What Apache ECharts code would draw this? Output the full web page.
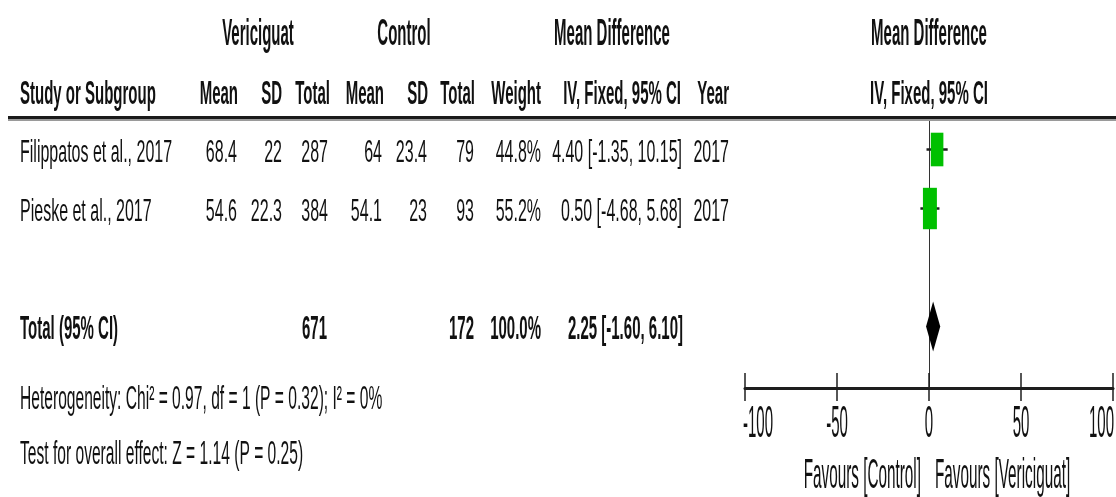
<!DOCTYPE html>
<html>
<head>
<meta charset="utf-8">
<script src="https://cdn.jsdelivr.net/npm/echarts@6/dist/echarts.min.js"></script>
<style>
html,body{margin:0;padding:0;background:#fff;}
#chart{width:1116px;height:497px;}
</style>
</head>
<body>
<div id="chart"></div>
<script>
// ---------- data ----------
const groupHeaders = ['Vericiguat', 'Control', 'Mean Difference', 'Mean Difference'];
const colHeaders = ['Study or Subgroup', 'Mean', 'SD', 'Total', 'Mean', 'SD', 'Total', 'Weight', 'IV, Fixed, 95% CI', 'Year', 'IV, Fixed, 95% CI'];
const studies = ['Filippatos et al., 2017', 'Pieske et al., 2017'];
const studyRows = [0, 1];
const vMean = [68.4, 54.6];
const vSD = [22, 22.3];
const vTotal = [287, 384];
const cMean = [64, 54.1];
const cSD = [23.4, 23];
const cTotal = [79, 93];
const weights = [44.8, 55.2];
const md = [4.40, 0.50];
const ciLow = [-1.35, -4.68];
const ciHigh = [10.15, 5.68];
const years = [2017, 2017];
const totalLabel = 'Total (95% CI)';
const totalRow = 3;
const totalV = 671;
const totalC = 172;
const totalWeight = 100.0;
const pooledMD = 2.25;
const pooledLow = -1.60;
const pooledHigh = 6.10;
const heterogeneity = 'Heterogeneity: Chi\u00B2 = 0.97, df = 1 (P = 0.32); I\u00B2 = 0%';
const overallEffect = 'Test for overall effect: Z = 1.14 (P = 0.25)';
const xTicks = [-100, -50, 0, 50, 100];
const favours = ['Favours [Control]', 'Favours [Vericiguat]'];

// ---------- styling / layout ----------
const FF = '"Liberation Sans", Arial, sans-serif';
const TXT = '#111';
const fmt2 = v => v.toFixed(2);
const ciText = (m, l, h) => fmt2(m) + ' [' + fmt2(l) + ', ' + fmt2(h) + ']';

function txt(text, x, y, align, bold, size, sy) {
  return {
    type: 'text', x: x, y: y, scaleY: sy, z: 10,
    style: {
      text: String(text), fill: TXT,
      font: (bold ? 'bold ' : '') + size + 'px ' + FF,
      textAlign: align, textVerticalAlign: 'middle',
      align: align, verticalAlign: 'middle'
    }
  };
}

const graphics = [];
// group headers
const gh = [[258, 'center'], [404, 'center'], [612, 'center'], [929, 'center']];
groupHeaders.forEach((t, i) => graphics.push(txt(t, gh[i][0], 35, gh[i][1], true, 15, 2.4)));
// column headers
const ch = [[20, 'left'], [238, 'right'], [282, 'right'], [330, 'right'], [384, 'right'], [428, 'right'],
            [475, 'right'], [541, 'right'], [681, 'right'], [729, 'right'], [929, 'center']];
colHeaders.forEach((t, i) => graphics.push(txt(t, ch[i][0], 95, ch[i][1], true, 15, 2.2)));

// study rows
const rowTextY = [153, 212];
const BS = 2.0;
studies.forEach((s, i) => {
  const y = rowTextY[i];
  graphics.push(txt(s, 20, y, 'left', false, 16, BS));
  graphics.push(txt(vMean[i], 237, y, 'right', false, 16, BS));
  graphics.push(txt(vSD[i], 282, y, 'right', false, 16, BS));
  graphics.push(txt(vTotal[i], 328, y, 'right', false, 16, BS));
  graphics.push(txt(cMean[i], 382, y, 'right', false, 16, BS));
  graphics.push(txt(cSD[i], 427, y, 'right', false, 16, BS));
  graphics.push(txt(cTotal[i], 474, y, 'right', false, 16, BS));
  graphics.push(txt(weights[i].toFixed(1) + '%', 541, y, 'right', false, 16, BS));
  graphics.push(txt(ciText(md[i], ciLow[i], ciHigh[i]), 682, y, 'right', false, 16, BS));
  graphics.push(txt(years[i], 729, y, 'right', false, 16, BS));
});
// total row
graphics.push(txt(totalLabel, 20, 330, 'left', true, 15, 2.2));
graphics.push(txt(totalV, 327, 330, 'right', true, 15, 2.2));
graphics.push(txt(totalC, 474, 330, 'right', true, 15, 2.2));
graphics.push(txt(totalWeight.toFixed(1) + '%', 541, 330, 'right', true, 15, 2.2));
graphics.push(txt(ciText(pooledMD, pooledLow, pooledHigh), 683, 330, 'right', true, 15, 2.2));
// footnotes
graphics.push(txt(heterogeneity, 20, 400, 'left', false, 15.6, 2.15));
graphics.push(txt(overallEffect, 20, 455, 'left', false, 15.6, 2.15));
// favours
graphics.push(txt(favours[0], 921, 476, 'right', false, 15.3, 2.75));
graphics.push(txt(favours[1], 935, 476, 'left', false, 15.3, 2.75));
// header rule (double line)
graphics.push({ type: 'rect', shape: { x: 8, y: 116, width: 1108, height: 3 }, style: { fill: '#1a1a1a' }, z: 5 });
graphics.push({ type: 'rect', shape: { x: 8, y: 119, width: 1108, height: 2 }, style: { fill: '#9a9a9a' }, z: 5 });

const chart = echarts.init(document.getElementById('chart'), null, { renderer: 'canvas' });

const studyData = studies.map((s, i) => [md[i], studyRows[i], ciLow[i], ciHigh[i], weights[i]]);

const option = {
  animation: false,
  backgroundColor: '#fff',
  grid: { left: 745, right: 3, top: 120, bottom: 109, containLabel: false },
  xAxis: {
    type: 'value', min: -100, max: 100, interval: 50, position: 'bottom',
    axisLine: { show: true, onZero: false, lineStyle: { color: '#1e1e1e', width: 3 } },
    axisTick: { show: false },
    axisLabel: { show: false }, splitLine: { show: false }
  },
  yAxis: { type: 'value', inverse: true, min: -0.5, max: 4.042, show: false },
  graphic: { elements: graphics },
  series: [
    {
      type: 'custom', name: 'studies', z: 5,
      data: studyData,
      renderItem: function (params, api) {
        const row = api.value(1);
        const c = api.coord([api.value(0), row]);
        const l = api.coord([api.value(2), row]);
        const h = api.coord([api.value(3), row]);
        const w = api.value(4);
        const bw = 1.88 * Math.sqrt(w);
        const bh = 0.75 * w;
        return {
          type: 'group',
          children: [
            { type: 'line', shape: { x1: l[0], y1: l[1], x2: h[0], y2: h[1] }, style: { stroke: '#1e1e1e', lineWidth: 2.5 } },
            { type: 'rect', shape: { x: c[0] - bw / 2, y: c[1] - bh / 2, width: bw, height: bh }, style: { fill: '#00c000' } }
          ]
        };
      },
      markLine: {
        silent: true, symbol: 'none', z: 1,
        label: { show: false },
        lineStyle: { color: '#333', width: 1, type: 'solid' },
        data: [{ xAxis: 0 }]
      }
    },
    {
      type: 'custom', name: 'total', z: 6,
      data: [[pooledMD, totalRow, pooledLow, pooledHigh]],
      renderItem: function (params, api) {
        const row = api.value(1);
        const c = api.coord([api.value(0), row]);
        const l = api.coord([api.value(2), row]);
        const h = api.coord([api.value(3), row]);
        const dh = 25;
        return {
          type: 'polygon',
          shape: { points: [[l[0], l[1]], [c[0], c[1] - dh], [h[0], h[1]], [c[0], c[1] + dh]] },
          style: { fill: '#000' }
        };
      }
    },
    {
      type: 'custom', name: 'ticks', z: 6, silent: true,
      data: xTicks.map(v => [v]),
      renderItem: function (params, api) {
        const v = api.value(0);
        const p = api.coord([v, 0]);
        const cs = params.coordSys;
        const axisY = cs.y + cs.height;
        let align = 'center';
        let x = p[0];
        if (params.dataIndex === 0) { align = 'left'; x -= 2; }
        if (params.dataIndex === xTicks.length - 1) { align = 'right'; x += 1; }
        return {
          type: 'group',
          children: [
            { type: 'line', shape: { x1: p[0], y1: axisY - 15, x2: p[0], y2: axisY + 13 }, style: { stroke: '#1e1e1e', lineWidth: 1.5 } },
            {
              type: 'text', x: x, y: axisY + 37, scaleY: 3.0,
              style: {
                text: String(v), fill: TXT, font: '15px ' + FF,
                textAlign: align, textVerticalAlign: 'middle', align: align, verticalAlign: 'middle'
              }
            }
          ]
        };
      }
    }
  ]
};
chart.setOption(option);
</script>
</body>
</html>
